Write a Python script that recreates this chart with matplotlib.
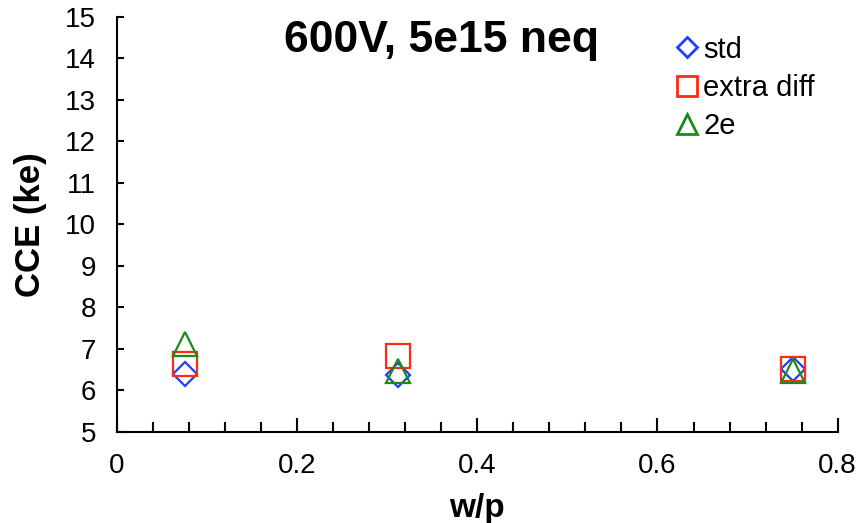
import numpy as np
import matplotlib
matplotlib.use("Agg")
import matplotlib.pyplot as plt
from matplotlib.lines import Line2D
from matplotlib.ticker import MultipleLocator

plt.rcParams['font.family'] = ['Liberation Sans', 'DejaVu Sans']

# data
wp = [0.075, 0.3125, 0.75]
cce_std = [6.40, 6.38, 6.52]
cce_extra = [6.64, 6.83, 6.52]
cce_2e = [7.13, 6.46, 6.46]

series = [
    ("std", cce_std, "D", 12.0, "#1f3fff"),
    ("extra diff", cce_extra, "s", 17.0, "#ff2a10"),
    ("2e", cce_2e, "^", 17.0, "#1a8a1a"),
]

fig = plt.figure(figsize=(8.6, 5.23), dpi=100)
ax = fig.add_axes([0.136, 0.174, 0.838, 0.7935])

for name, vals, mk, ms, col in series:
    ax.plot(wp, vals, linestyle="none", marker=mk, markersize=ms,
            markerfacecolor="none", markeredgecolor=col, markeredgewidth=1.6)

ax.set_xlim(0, 0.8)
ax.set_ylim(5, 15)
ax.xaxis.set_major_locator(MultipleLocator(0.2))
ax.xaxis.set_minor_locator(MultipleLocator(0.04))
ax.yaxis.set_major_locator(MultipleLocator(1))
ax.set_xticks([0, 0.2, 0.4, 0.6, 0.8])
ax.set_xticklabels(["0", "0.2", "0.4", "0.6", "0.8"])

for s in ("top", "right"):
    ax.spines[s].set_visible(False)
for s in ("left", "bottom"):
    ax.spines[s].set_linewidth(1.5)

ax.tick_params(axis="x", which="major", direction="in", length=10, width=1.5,
               pad=15, labelsize=20)
ax.tick_params(axis="x", which="minor", direction="in", length=7, width=1.5)
ax.tick_params(axis="y", which="major", direction="in", length=5, width=1.5,
               pad=15, labelsize=20)

ax.set_xlabel("w/p", fontsize=24, fontweight="bold", labelpad=10)
ax.set_ylabel("CCE (ke)", fontsize=25, fontweight="bold", labelpad=13)

fig.text(0.513, 0.922, "600V, 5e15 neq", fontsize=32, fontweight="bold",
         ha="center", va="center")

handles = [Line2D([], [], linestyle="none", marker=mk, markersize=ms * 0.85,
                  markerfacecolor="none", markeredgecolor=col, markeredgewidth=2)
           for name, vals, mk, ms, col in series]
ax.legend(handles, [s[0] for s in series], loc="upper left",
          bbox_to_anchor=(0.775, 0.955), frameon=False, fontsize=21,
          handlelength=0.8, handletextpad=0.15, labelspacing=0.35,
          borderaxespad=0, borderpad=0)

fig.savefig("out.png", dpi=100)
